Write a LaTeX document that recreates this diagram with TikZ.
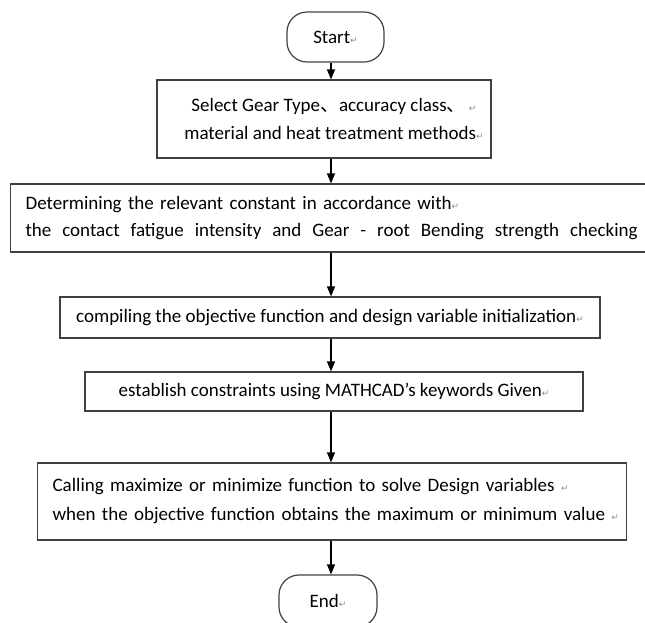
\documentclass[tikz,border=0pt]{standalone}
\usepackage{fontspec}
\setmainfont{Carlito}
\newfontfamily\cjk{Noto Sans CJK SC}
\newfontfamily\markfont{DejaVu Sans}
\usetikzlibrary{arrows.meta}
\newcommand{\pmark}{{\markfont\fontsize{9}{9}\selectfont\textcolor{black!45}{↵}}}
\newcommand{\dun}{{\cjk 、}}

\begin{document}
\begin{tikzpicture}[x=1pt,y=-1pt,
    box/.style={draw=black!75, line width=1.2pt, inner sep=0pt, align=center,
      font=\fontsize{19}{28}\selectfont},
    leftbox/.style={box, align=left, inner xsep=15pt, inner ysep=0pt},
    term/.style={box, rounded corners=20pt},
    arr/.style={-{Triangle[length=10pt,width=8pt]}, line width=1.2pt}]
  \useasboundingbox (0,0) rectangle (645,622);
  \coordinate (axis) at (331,0);
  \node[term, minimum width=97pt, minimum height=50pt] (start) at (335.5,37) {Start\pmark};
  \node[box, minimum width=334pt, minimum height=78pt] (sel) at (324,119)
    {\hspace*{20pt}Select Gear Type\dun accuracy class\dun\,\pmark\\
     \hspace*{20pt}material and heat treatment methods\pmark};
  \node[leftbox, text width=612pt, minimum height=68pt, anchor=west,
    font=\fontsize{19}{27}\selectfont] (det) at (10,218)
    {Determining the relevant constant in accordance with\pmark\\
     \hbox to 612pt{the\hfill contact\hfill fatigue\hfill intensity\hfill and\hfill Gear\hfill
       -\hfill root\hfill Bending\hfill strength\hfill checking}};
  \node[box, minimum width=540pt, minimum height=41pt] (obj) at (330,317.5)
    {compiling the objective function and design variable initialization\pmark};
  \node[box, minimum width=498pt, minimum height=39pt] (con) at (334,391.5)
    {establish constraints using MATHCAD's keywords Given\pmark};
  \node[leftbox, text width=559pt, minimum height=77pt, anchor=west,
    font=\fontsize{19}{29}\selectfont] (call) at (37,501.5)
    {\mbox{Calling maximize or minimize function to solve Design variables \pmark}\\
     \mbox{when the objective function obtains the maximum or minimum value \pmark}};
  \node[term, minimum width=98pt, minimum height=52pt] (end) at (328,601) {End\pmark};

  \draw[arr] (axis |- start.south) -- (axis |- sel.north);
  \draw[arr] (axis |- sel.south) -- (axis |- det.north);
  \draw[arr] (axis |- det.south) -- (axis |- obj.north);
  \draw[arr] (axis |- obj.south) -- (axis |- con.north);
  \draw[arr] (axis |- con.south) -- (axis |- call.north);
  \draw[arr] (axis |- call.south) -- (axis |- end.north);
\end{tikzpicture}
\end{document}
